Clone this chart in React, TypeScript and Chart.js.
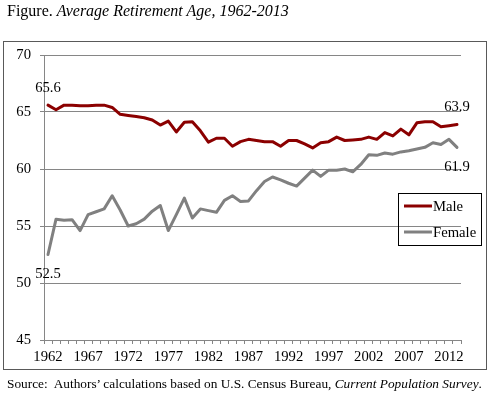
import { useEffect, useRef } from "react";
import { Chart, registerables } from "chart.js";
Chart.register(...registerables);

const years = [
  "1962", "1963", "1964", "1965", "1966", "1967", "1968", "1969", "1970", "1971",
  "1972", "1973", "1974", "1975", "1976", "1977", "1978", "1979", "1980", "1981",
  "1982", "1983", "1984", "1985", "1986", "1987", "1988", "1989", "1990", "1991",
  "1992", "1993", "1994", "1995", "1996", "1997", "1998", "1999", "2000", "2001",
  "2002", "2003", "2004", "2005", "2006", "2007", "2008", "2009", "2010", "2011",
  "2012", "2013",
];

const male = [
  65.6, 65.2, 65.6, 65.6, 65.55, 65.55, 65.6, 65.6, 65.4, 64.8,
  64.7, 64.6, 64.5, 64.3, 63.85, 64.2, 63.25, 64.1, 64.15, 63.35,
  62.35, 62.7, 62.7, 62.0, 62.4, 62.6, 62.5, 62.4, 62.4, 62.0,
  62.5, 62.5, 62.2, 61.85, 62.3, 62.4, 62.8, 62.5, 62.55, 62.6,
  62.8, 62.6, 63.2, 62.9, 63.5, 63.0, 64.05, 64.15, 64.15, 63.7,
  63.8, 63.9,
];

const female = [
  52.5, 55.6, 55.5, 55.55, 54.6, 56.0, 56.25, 56.5, 57.65, 56.4,
  55.0, 55.2, 55.6, 56.3, 56.8, 54.6, 56.0, 57.45, 55.7, 56.5,
  56.35, 56.2, 57.25, 57.65, 57.15, 57.2, 58.1, 58.9, 59.3, 59.05,
  58.75, 58.5, 59.2, 59.9, 59.35, 59.9, 59.9, 60.0, 59.75, 60.4,
  61.25, 61.2, 61.4, 61.3, 61.5, 61.6, 61.75, 61.9, 62.3, 62.15,
  62.6, 61.9,
];

const seriesNames = ["Male", "Female"];
const seriesColors = ["#8B0000", "#808080"];
const endLabels = [
  { ds: 0, idx: 0, text: "65.6", above: true },
  { ds: 1, idx: 0, text: "52.5", above: false },
  { ds: 0, idx: 51, text: "63.9", above: true },
  { ds: 1, idx: 51, text: "61.9", above: false },
];

const SERIF = "'Liberation Serif', 'Times New Roman', serif";

const overlayPlugin = {
  id: "overlay",
  afterDatasetsDraw(chart: any) {
    const ctx = chart.ctx as CanvasRenderingContext2D;
    ctx.save();
    ctx.font = `14.67px ${SERIF}`;
    ctx.fillStyle = "#000";
    ctx.textAlign = "center";
    ctx.textBaseline = "middle";
    for (const l of endLabels) {
      const pt = chart.getDatasetMeta(l.ds).data[l.idx];
      ctx.fillText(l.text, pt.x, pt.y + (l.above ? -17 : 20));
    }
    // legend
    const lx = 398.5, ly = 193.5, lw = 83, lh = 52;
    ctx.strokeStyle = "#000";
    ctx.lineWidth = 1;
    ctx.strokeRect(lx, ly, lw, lh);
    ctx.textAlign = "left";
    const rows = [206, 232];
    seriesNames.forEach((name, i) => {
      ctx.strokeStyle = seriesColors[i];
      ctx.lineWidth = 3;
      ctx.beginPath();
      ctx.moveTo(404, rows[i]);
      ctx.lineTo(432, rows[i]);
      ctx.stroke();
      ctx.fillStyle = "#000";
      ctx.fillText(name, 433, rows[i] + 1);
    });
    ctx.restore();
  },
};

export default function App() {
  const ref = useRef<HTMLCanvasElement>(null);
  useEffect(() => {
    const chart = new Chart(ref.current!, {
      type: "line",
      data: {
        labels: years,
        datasets: [
          {
            label: seriesNames[0],
            data: male,
            borderColor: seriesColors[0],
            backgroundColor: seriesColors[0],
            borderWidth: 3,
            pointRadius: 0,
            tension: 0,
            borderJoinStyle: "round",
            borderCapStyle: "round",
          },
          {
            label: seriesNames[1],
            data: female,
            borderColor: seriesColors[1],
            backgroundColor: seriesColors[1],
            borderWidth: 3,
            pointRadius: 0,
            tension: 0,
            borderJoinStyle: "round",
            borderCapStyle: "round",
          },
        ],
      },
      options: {
        responsive: false,
        animation: false,
        devicePixelRatio: 1,
        layout: { padding: { left: 0, top: 55, right: 31, bottom: 17 } },
        plugins: {
          legend: { display: false },
          tooltip: { enabled: false },
          title: { display: false },
        },
        scales: {
          x: {
            type: "category",
            offset: true,
            grid: {
              display: true,
              offset: true,
              drawOnChartArea: false,
              drawTicks: true,
              tickLength: 4,
              color: "#868686",
            },
            border: { display: true, color: "#868686", width: 1 },
            ticks: {
              autoSkip: false,
              maxRotation: 0,
              minRotation: 0,
              padding: 4,
              color: "#000",
              font: { family: SERIF, size: 14.67 },
              callback: (_v: any, i: number) => (i % 5 === 0 ? years[i] : ""),
            },
            afterFit: (s: any) => {
              s.height = 40;
            },
          },
          y: {
            min: 45,
            max: 70,
            grid: {
              color: "#868686",
              drawTicks: true,
              tickLength: 4,
            },
            border: { display: true, color: "#868686", width: 1 },
            ticks: {
              stepSize: 5,
              padding: 9,
              color: "#000",
              font: { family: SERIF, size: 14.67 },
            },
            afterFit: (s: any) => {
              s.width = 44;
            },
          },
        },
      },
      plugins: [overlayPlugin],
    } as any);
    return () => chart.destroy();
  }, []);

  return (
    <div style={{ position: "absolute", left: 0, top: 0, width: 492, height: 397, background: "#fff" }}>
      <div
        style={{
          position: "absolute",
          left: 3,
          top: 41,
          width: 484,
          height: 329,
          border: "1px solid #595959",
          boxSizing: "border-box",
        }}
      />
      <canvas
        ref={ref}
        width={492}
        height={397}
        style={{ position: "absolute", left: 0, top: 0, width: 492, height: 397 }}
      />
      <div
        style={{
          position: "absolute",
          left: 7,
          top: 3,
          font: `16px/1 ${SERIF}`,
          whiteSpace: "nowrap",
          color: "#000",
        }}
      >
        Figure. <i>Average Retirement Age, 1962-2013</i>
      </div>
      <div
        style={{
          position: "absolute",
          left: 7,
          top: 377,
          font: `13.33px/1 ${SERIF}`,
          whiteSpace: "nowrap",
          color: "#000",
        }}
      >
        Source:&nbsp; Authors’ calculations based on U.S. Census Bureau, <i>Current Population Survey</i>.
      </div>
    </div>
  );
}
